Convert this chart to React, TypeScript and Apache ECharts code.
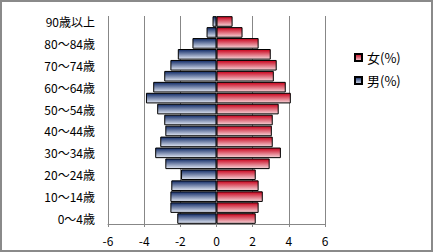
import React, { useEffect, useRef } from "react";
import * as echarts from "echarts";

const categories = [
  "0～4歳", "5～9歳", "10～14歳", "15～19歳", "20～24歳", "25～29歳", "30～34歳",
  "35～39歳", "40～44歳", "45～49歳", "50～54歳", "55～59歳", "60～64歳", "65～69歳",
  "70～74歳", "75～79歳", "80～84歳", "85～89歳", "90歳以上",
];
// 男（%）: plotted to the left (negative side)
const maleValues = [
  -2.17, -2.55, -2.55, -2.5, -1.96, -2.83, -3.39, -3.11, -2.83, -2.89,
  -3.28, -3.9, -3.5, -2.89, -2.55, -2.14, -1.33, -0.55, -0.22,
];
const femaleValues = [
  2.17, 2.33, 2.56, 2.33, 2.17, 2.94, 3.56, 3.11, 3.06, 3.11,
  3.44, 4.11, 3.83, 3.17, 3.33, 3.0, 2.33, 1.44, 0.89,
];
const femaleName = "女(%)";
const maleName = "男(%)";
const xMin = -6;
const xMax = 6;
const xInterval = 2;

const FONT = "'Noto Sans CJK JP', 'Noto Sans', sans-serif";

export default function App() {
  const ref = useRef<HTMLDivElement>(null);
  useEffect(() => {
    document.body.style.margin = "0";
    if (!ref.current) return;
    const chart = echarts.init(ref.current, undefined, { renderer: "svg" });
    const femaleGrad = new echarts.graphic.LinearGradient(0, 0, 0, 1, [
      { offset: 0, color: "#c8001a" },
      { offset: 1, color: "#f6d6da" },
    ]);
    const maleGrad = new echarts.graphic.LinearGradient(0, 0, 0, 1, [
      { offset: 0, color: "#102a66" },
      { offset: 1, color: "#e2e8f4" },
    ]);
    chart.setOption({
      animation: false,
      backgroundColor: "#ffffff",
      textStyle: { fontFamily: FONT },
      graphic: [
        {
          type: "rect",
          shape: { x: 1, y: 1, width: 431, height: 250 },
          style: { fill: "none", stroke: "#8a8a8a", lineWidth: 2 },
          silent: true,
          z: 100,
        },
      ],
      legend: {
        orient: "vertical",
        left: 349,
        top: 46,
        icon: "rect",
        itemWidth: 7,
        itemHeight: 7,
        itemGap: 10,
        data: [femaleName, maleName],
        textStyle: { fontFamily: FONT, fontSize: 13, color: "#000" },
      },
      grid: { left: 108, right: 108, top: 16, bottom: 28, containLabel: false },
      xAxis: {
        type: "value",
        min: xMin,
        max: xMax,
        interval: xInterval,
        axisLine: { show: true, lineStyle: { color: "#878787", width: 1 } },
        axisTick: { show: true, length: 3, lineStyle: { color: "#878787" } },
        splitLine: { show: true, lineStyle: { color: "#878787", width: 1 } },
        axisLabel: { fontFamily: FONT, fontSize: 12, color: "#000", margin: 10 },
      },
      yAxis: {
        type: "category",
        data: categories,
        axisLine: { show: false, onZero: false },
        axisTick: { show: false },
        axisLabel: { interval: 1, fontFamily: FONT, fontSize: 12, color: "#000", margin: 13 },
      },
      series: [
        {
          name: femaleName,
          type: "bar",
          stack: "pop",
          data: femaleValues,
          barCategoryGap: "3%",
          itemStyle: { color: femaleGrad, borderColor: "#000", borderWidth: 1 },
        },
        {
          name: maleName,
          type: "bar",
          stack: "pop",
          data: maleValues,
          barCategoryGap: "3%",
          itemStyle: { color: maleGrad, borderColor: "#000", borderWidth: 1 },
        },
      ],
    });
    return () => chart.dispose();
  }, []);
  return <div ref={ref} style={{ width: 433, height: 252 }} />;
}
